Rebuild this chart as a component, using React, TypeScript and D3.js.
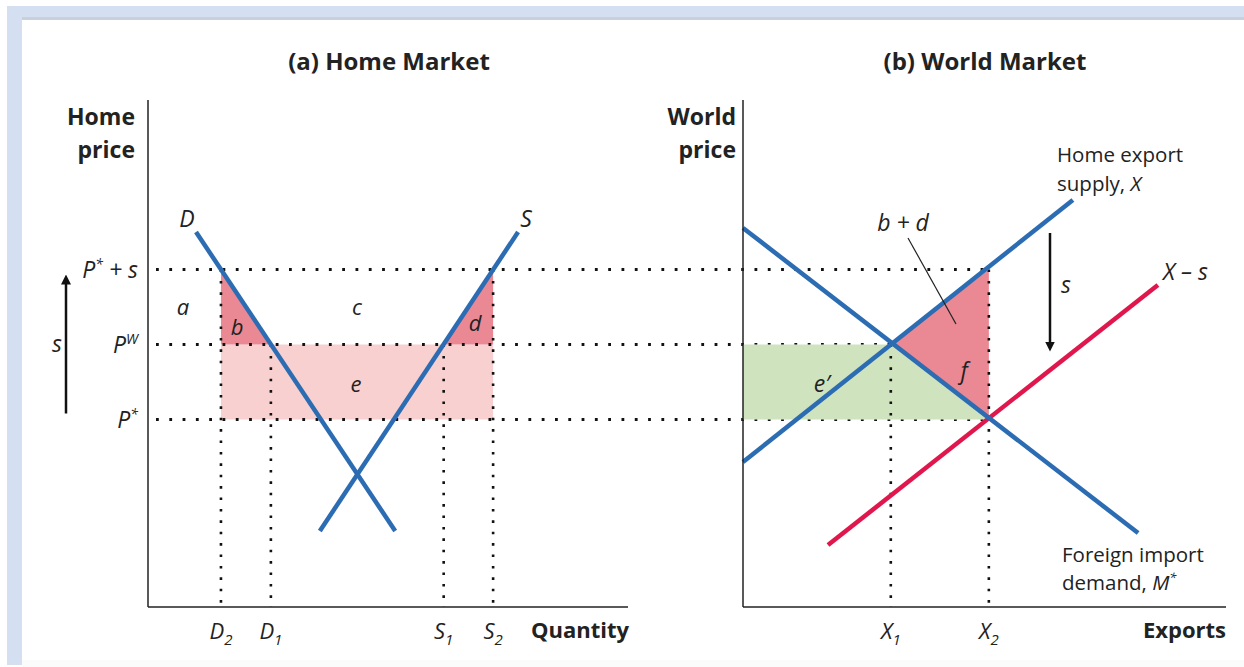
import React from "react";
import * as d3 from "d3";

// ---- data (abstract units: quantity 0..100, price 0..100) ----
const priceLevels = [
  { key: "Ps", base: "P", sup: "*", tail: " + s", p: 67.5 },
  { key: "PW", base: "P", sup: "W", tail: "", p: 52.5 },
  { key: "P", base: "P", sup: "*", tail: "", p: 37.5 },
];
const homeDemand = [
  { q: 10, p: 75 },
  { q: 51.5, p: 15.2 },
];
const homeSupply = [
  { q: 77.1, p: 75 },
  { q: 35.8, p: 15.2 },
];
const homeQty = [
  { base: "D", sub: "2", q: 15.2 },
  { base: "D", sub: "1", q: 25.6 },
  { base: "S", sub: "1", q: 61.6 },
  { base: "S", sub: "2", q: 71.9 },
];
const foreignDemand = [
  { q: 0, p: 75.8 },
  { q: 81.8, p: 14.8 },
];
const exportSupply = [
  { q: 0, p: 29 },
  { q: 68.3, p: 81.4 },
];
const exportSupplyLessS = [
  { q: 17.6, p: 12.4 },
  { q: 85.9, p: 64.4 },
];
const exportQty = [
  { base: "X", sub: "1", q: 30.6 },
  { base: "X", sub: "2", q: 50.9 },
];

const BLUE = "#2c6cb2";
const RED = "#e0174d";
const DARKPINK = "#ea8994";
const LIGHTPINK = "#f9d0d0";
const GREEN = "#cfe3bf";
const FONT = "'Open Sans', 'DejaVu Sans', sans-serif";

export default function App() {
  const W = 1244,
    H = 667;
  const y = d3.scaleLinear().domain([0, 100]).range([607, 107]);
  const xa = d3.scaleLinear().domain([0, 100]).range([148, 628]);
  const xb = d3.scaleLinear().domain([0, 100]).range([743, 1226]);

  const lineA = d3
    .line<{ q: number; p: number }>()
    .x((d) => xa(d.q))
    .y((d) => y(d.p));
  const lineB = d3
    .line<{ q: number; p: number }>()
    .x((d) => xb(d.q))
    .y((d) => y(d.p));

  const pTop = priceLevels[0].p;
  const pW = priceLevels[1].p;
  const pLow = priceLevels[2].p;
  const [D2, D1, S1, S2] = homeQty.map((d) => d.q);
  const [X1, X2] = exportQty.map((d) => d.q);

  const poly = (pts: [number, number][]) =>
    "M" + pts.map((p) => p.join(",")).join("L") + "Z";

  const hdot = { stroke: "#111", strokeWidth: 2.8, strokeDasharray: "2.8 10.5", fill: "none" };
  const vdot = { stroke: "#111", strokeWidth: 2.6, strokeDasharray: "2.6 8.8", fill: "none" };
  const italic = { fontFamily: FONT, fontStyle: "italic" as const, fill: "#222" };

  const priceLabel = (lv: (typeof priceLevels)[0], xRight: number) => (
    <text
      key={lv.key}
      x={xRight}
      y={y(lv.p) + 8}
      textAnchor="end"
      fontSize={23}
      {...italic}
    >
      {lv.base}
      <tspan dy={-9} fontSize={14}>
        {lv.sup}
      </tspan>
      <tspan dy={9}>{lv.tail}</tspan>
    </text>
  );

  const qtyLabel = (d: (typeof homeQty)[0], xs: (v: number) => number) => (
    <text
      key={d.base + d.sub}
      x={xs(d.q)}
      y={639}
      textAnchor="middle"
      fontSize={22}
      {...italic}
    >
      {d.base}
      <tspan dy={6} fontSize={15}>
        {d.sub}
      </tspan>
    </text>
  );

  return (
    <svg width={W} height={H} style={{ position: "absolute", left: 0, top: 0 }}>
      <defs>
        <marker id="ah" viewBox="0 0 10 10" refX="5" refY="5" markerWidth="4" markerHeight="5" orient="auto">
          <path d="M0,0 L10,5 L0,10 Z" fill="#111" />
        </marker>
      </defs>
      {/* frame */}
      <rect x={0} y={0} width={W} height={H} fill="#ffffff" />
      <rect x={7} y={6} width={W - 7} height={12} fill="#d4e0f2" />
      <rect x={22} y={17} width={W - 22} height={3} fill="#c9d0db" />
      <rect x={7} y={6} width={15} height={659} fill="#d4e0f2" />
      <rect x={22} y={660} width={W - 22} height={7} fill="#fbfbfb" />

      {/* titles */}
      <text x={389} y={70} textAnchor="middle" fontFamily={FONT} fontWeight="bold" fontSize={24} fill="#222">
        (a) Home Market
      </text>
      <text x={985} y={70} textAnchor="middle" fontFamily={FONT} fontWeight="bold" fontSize={24} fill="#222">
        (b) World Market
      </text>

      {/* ---------- panel (a) ---------- */}
      <path d={poly([[xa(D2), y(pW)], [xa(S2), y(pW)], [xa(S2), y(pLow)], [xa(D2), y(pLow)]])} fill={LIGHTPINK} />
      <path d={poly([[xa(D2), y(pTop)], [xa(D2), y(pW)], [xa(D1), y(pW)]])} fill={DARKPINK} />
      <path d={poly([[xa(S2), y(pTop)], [xa(S2), y(pW)], [xa(S1), y(pW)]])} fill={DARKPINK} />

      {/* dotted guides */}
      <line x1={xa(0) + 8} x2={xb(X2)} y1={y(pTop)} y2={y(pTop)} style={hdot} />
      <line x1={xa(0) + 8} x2={xb(X2)} y1={y(pW)} y2={y(pW)} style={hdot} />
      <line x1={xa(0) + 8} x2={xb(X2)} y1={y(pLow)} y2={y(pLow)} style={hdot} />
      <line x1={xa(D2)} x2={xa(D2)} y1={y(pTop)} y2={y(0)} style={vdot} />
      <line x1={xa(D1)} x2={xa(D1)} y1={y(pW)} y2={y(0)} style={vdot} />
      <line x1={xa(S1)} x2={xa(S1)} y1={y(pW)} y2={y(0)} style={vdot} />
      <line x1={xa(S2)} x2={xa(S2)} y1={y(pTop)} y2={y(0)} style={vdot} />

      {/* curves */}
      <path d={lineA(homeDemand)!} stroke={BLUE} strokeWidth={4.5} fill="none" />
      <path d={lineA(homeSupply)!} stroke={BLUE} strokeWidth={4.5} fill="none" />

      {/* axes */}
      <line x1={xa(0)} x2={xa(0)} y1={100} y2={y(0)} stroke="#222" strokeWidth={1.5} />
      <line x1={xa(0)} x2={xa(100)} y1={y(0)} y2={y(0)} stroke="#222" strokeWidth={1.5} />
      <text x={135} y={125} textAnchor="end" fontFamily={FONT} fontWeight="bold" fontSize={23} fill="#222">
        Home
      </text>
      <text x={135} y={158} textAnchor="end" fontFamily={FONT} fontWeight="bold" fontSize={23} fill="#222">
        price
      </text>
      {priceLevels.map((lv) => priceLabel(lv, 138))}
      {homeQty.map((d) => qtyLabel(d, xa))}
      <text x={629} y={638} textAnchor="end" fontFamily={FONT} fontWeight="bold" fontSize={22} fill="#222">
        Quantity
      </text>

      {/* region labels */}
      <text x={183} y={315} textAnchor="middle" fontSize={22} {...italic}>a</text>
      <text x={237} y={335} textAnchor="middle" fontSize={22} {...italic}>b</text>
      <text x={357} y={315} textAnchor="middle" fontSize={22} {...italic}>c</text>
      <text x={475} y={331} textAnchor="middle" fontSize={22} {...italic}>d</text>
      <text x={356} y={392} textAnchor="middle" fontSize={22} {...italic}>e</text>
      <text x={187} y={227} textAnchor="middle" fontSize={23} {...italic}>D</text>
      <text x={526} y={227} textAnchor="middle" fontSize={23} {...italic}>S</text>

      {/* s arrow (a) */}
      <line x1={66} x2={66} y1={y(pLow) - 6} y2={y(pTop) + 10} stroke="#111" strokeWidth={2.5} markerEnd="url(#ah)" />
      <text x={57} y={352} textAnchor="middle" fontSize={23} {...italic}>s</text>

      {/* ---------- panel (b) ---------- */}
      <path
        d={poly([
          [xb(0), y(pW)],
          [xb(X1), y(pW)],
          [xb(X2), y(pLow)],
          [xb(0), y(pLow)],
        ])}
        fill={GREEN}
      />
      <path
        d={poly([
          [xb(X1), y(pW)],
          [xb(X2), y(pTop)],
          [xb(X2), y(pLow)],
        ])}
        fill={DARKPINK}
      />
      <line x1={xb(X1)} x2={xb(X1)} y1={y(pW)} y2={y(0)} style={vdot} />
      <line x1={xb(X2)} x2={xb(X2)} y1={y(pTop)} y2={y(0)} style={vdot} />

      <path d={lineB(exportSupplyLessS)!} stroke={RED} strokeWidth={4.5} fill="none" />
      <path d={lineB(foreignDemand)!} stroke={BLUE} strokeWidth={4.5} fill="none" />
      <path d={lineB(exportSupply)!} stroke={BLUE} strokeWidth={4.5} fill="none" />

      <line x1={xb(0)} x2={xb(0)} y1={100} y2={y(0)} stroke="#222" strokeWidth={1.5} />
      <line x1={xb(0)} x2={xb(100)} y1={y(0)} y2={y(0)} stroke="#222" strokeWidth={1.5} />
      <text x={736} y={125} textAnchor="end" fontFamily={FONT} fontWeight="bold" fontSize={23} fill="#222">
        World
      </text>
      <text x={736} y={158} textAnchor="end" fontFamily={FONT} fontWeight="bold" fontSize={23} fill="#222">
        price
      </text>
      {exportQty.map((d) => qtyLabel(d, xb))}
      <text x={1226} y={638} textAnchor="end" fontFamily={FONT} fontWeight="bold" fontSize={22} fill="#222">
        Exports
      </text>

      <text x={1057} y={162} fontFamily={FONT} fontSize={20.5} fill="#222">Home export</text>
      <text x={1057} y={191} fontFamily={FONT} fontSize={20.5} fill="#222">
        supply, <tspan fontStyle="italic">X</tspan>
      </text>
      <text x={1163} y={280} fontSize={23} {...italic}>X – s</text>
      <text x={1062} y={562} fontFamily={FONT} fontSize={20.5} fill="#222">Foreign import</text>
      <text x={1062} y={590} fontFamily={FONT} fontSize={20.5} fill="#222">
        demand, <tspan fontStyle="italic">M</tspan>
        <tspan fontStyle="italic" dy={-8} fontSize={13}>*</tspan>
      </text>

      <text x={903} y={231} textAnchor="middle" fontSize={23} {...italic}>b + d</text>
      <line x1={908} y1={238} x2={956} y2={324} stroke="#222" strokeWidth={1.2} />
      <text x={964} y={379} textAnchor="middle" fontSize={23} {...italic}>f</text>
      <text x={822} y={392} textAnchor="middle" fontSize={23} {...italic}>e′</text>

      {/* s arrow (b) */}
      <line x1={1050} x2={1050} y1={233} y2={y(pW) + 2} stroke="#111" strokeWidth={2.5} markerEnd="url(#ah)" />
      <text x={1066} y={293} textAnchor="middle" fontSize={23} {...italic}>s</text>
    </svg>
  );
}
